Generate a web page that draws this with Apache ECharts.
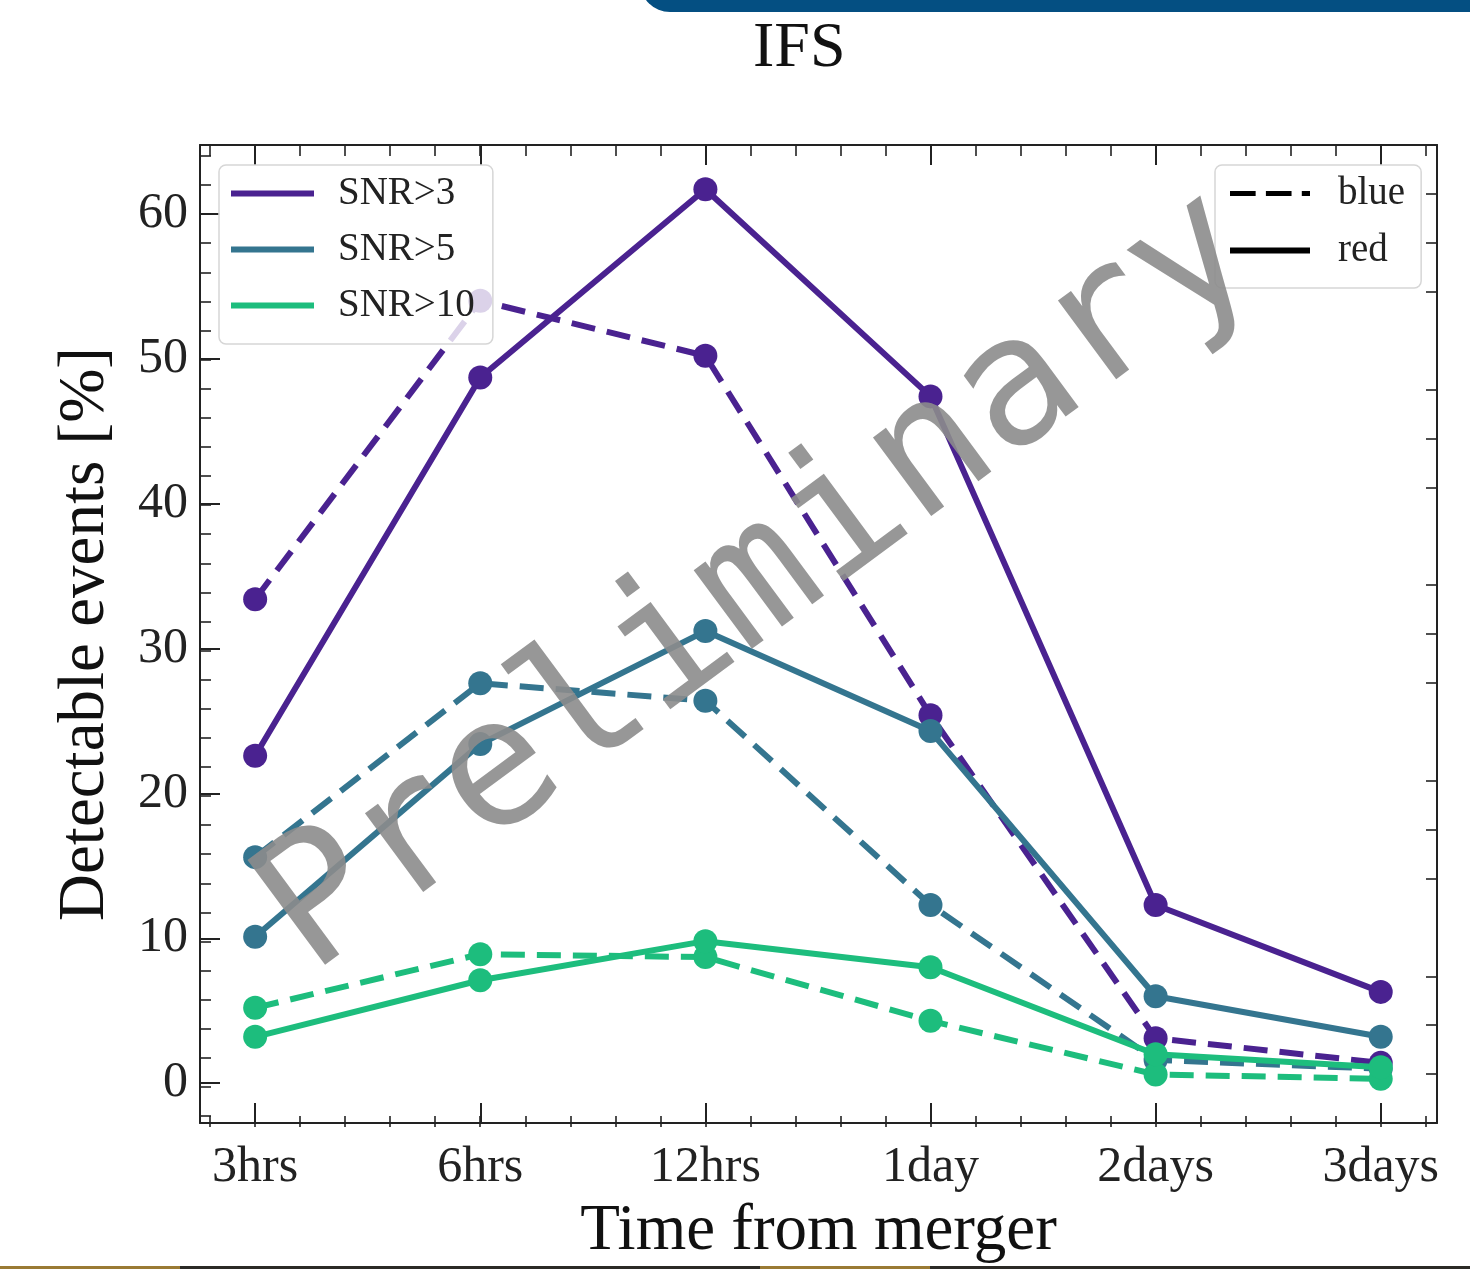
<!DOCTYPE html>
<html>
<head>
<meta charset="utf-8">
<script src="https://cdn.jsdelivr.net/npm/echarts@6/dist/echarts.min.js"></script>
<style>
html,body{margin:0;padding:0;background:#fff;}
#chart{width:1470px;height:1269px;}
</style>
</head>
<body>
<div id="chart"></div>
<script>
// x categories (time from merger)
var timeLabels = ['3hrs', '6hrs', '12hrs', '1day', '2days', '3days'];
// detectable events [%], solid = red, dashed = blue
var snr3Red = [22.6, 48.7, 61.7, 47.4, 12.3, 6.3];
var snr3Blue = [33.4, 54.0, 50.2, 25.4, 3.1, 1.4];
var snr5Red = [10.1, 23.4, 31.2, 24.3, 6.0, 3.2];
var snr5Blue = [15.6, 27.6, 26.4, 12.3, 1.6, 1.0];
var snr10Red = [3.2, 7.1, 9.8, 8.0, 2.0, 1.1];
var snr10Blue = [5.2, 8.9, 8.7, 4.3, 0.6, 0.3];

var serif = '"Liberation Serif", "DejaVu Serif", serif';
var axisColor = '#222';
var cPurple = '#4a2290';
var cTeal = '#34758f';
var cGreen = '#1dbd7d';

function pts(arr) {
	var out = [];
	for (var i = 0; i < arr.length; i++) out.push([i, arr[i]]);
	return out;
}

function lineSeries(name, arr, color, dashed) {
	return {
		type: 'line',
		name: name,
		data: pts(arr),
		xAxisIndex: 0,
		yAxisIndex: 0,
		symbol: 'circle',
		symbolSize: 24,
		itemStyle: {color: color},
		lineStyle: {color: color, width: 6, type: dashed ? [24, 12] : 'solid'},
		z: dashed ? 3 : 4,
		animation: false
	};
}

var chart = echarts.init(document.getElementById('chart'));

var majorTick = {show: true, inside: true, length: 20, lineStyle: {color: axisColor, width: 2}};
var frameLine = {show: true, onZero: false, lineStyle: {color: axisColor, width: 2}};
var hiddenLine = {show: false, onZero: false};
var minorAxisTick = {show: true, inside: true, length: 11, lineStyle: {color: axisColor, width: 1.6}};

var option = {
	backgroundColor: '#fff',
	animation: false,
	title: {
		text: 'IFS',
		left: 748,
		top: 12,
		textStyle: {fontFamily: serif, fontSize: 64, fontWeight: 'normal', color: '#111'}
	},
	grid: [
		{left: 200, right: 33, top: 145, bottom: 142},
		// helper grid, only for the minor ticks
		{left: 210.1, right: 44.3, top: 155.9, bottom: 152.9}
	],
	legend: [
		{
			orient: 'vertical',
			left: 219,
			top: 165,
			data: ['SNR>3', 'SNR>5', 'SNR>10'],
			icon: 'rect',
			itemWidth: 83,
			itemHeight: 6,
			itemGap: 17,
			padding: [9, 18, 19, 12],
			backgroundColor: 'rgba(255,255,255,0.8)',
			borderColor: '#d6d6d6',
			borderWidth: 1.5,
			borderRadius: 7,
			selectedMode: false,
			textStyle: {fontFamily: serif, fontSize: 39, color: '#222', lineHeight: 36, padding: [0, 0, 0, 19]}
		},
		{
			orient: 'vertical',
			left: 1215,
			top: 165,
			data: [
				{name: 'blue', icon: 'path://M0,0H25V5H0Z M35,0H60V5H35Z M70,0H78V5H70Z'},
				{name: 'red', icon: 'rect'}
			],
			itemWidth: 80,
			itemHeight: 6,
			itemGap: 18,
			padding: [9, 16, 18, 15],
			backgroundColor: 'rgba(255,255,255,0.8)',
			borderColor: '#d6d6d6',
			borderWidth: 1.5,
			borderRadius: 7,
			selectedMode: false,
			textStyle: {fontFamily: serif, fontSize: 39, color: '#222', lineHeight: 36, padding: [0, 0, 0, 23]}
		}
	],
	xAxis: [
		{
			type: 'value', gridIndex: 0, position: 'bottom',
			min: -0.245, max: 5.25, splitNumber: 5,
			axisLine: frameLine, axisTick: majorTick, splitLine: {show: false},
			axisLabel: {
				showMinLabel: false, showMaxLabel: false, margin: 20,
				fontFamily: serif, fontSize: 50, color: '#222',
				formatter: function (v) {
					var r = Math.round(v);
					return Math.abs(v - r) < 1e-6 && timeLabels[r] ? timeLabels[r] : '';
				}
			},
			name: 'Time from merger', nameLocation: 'middle', nameGap: 76,
			nameTextStyle: {fontFamily: serif, fontSize: 65, color: '#111'}
		},
		{
			type: 'value', gridIndex: 0, position: 'top',
			min: -0.245, max: 5.25, splitNumber: 5,
			axisLine: frameLine, axisTick: majorTick, splitLine: {show: false},
			axisLabel: {show: false}
		},
		{
			type: 'value', gridIndex: 1, position: 'bottom', offset: 10.9,
			min: -0.2, max: 5.2, interval: 0.2,
			axisLine: hiddenLine, axisTick: minorAxisTick, splitLine: {show: false},
			axisLabel: {show: false}
		},
		{
			type: 'value', gridIndex: 1, position: 'top', offset: 10.9,
			min: -0.2, max: 5.2, interval: 0.2,
			axisLine: hiddenLine, axisTick: minorAxisTick, splitLine: {show: false},
			axisLabel: {show: false}
		}
	],
	yAxis: [
		{
			type: 'value', gridIndex: 0, position: 'left',
			min: -2.75, max: 64.75, splitNumber: 7,
			axisLine: frameLine, axisTick: majorTick, splitLine: {show: false},
			axisLabel: {
				showMinLabel: false, showMaxLabel: false, margin: 12,
				fontFamily: serif, fontSize: 50, color: '#222',
				formatter: function (v) {
					return Math.abs(v % 10) < 1e-6 && v >= 0 ? String(v) : '';
				}
			},
			name: 'Detectable events [%]', nameLocation: 'middle', nameGap: 82,
			nameTextStyle: {fontFamily: serif, fontSize: 65, color: '#111'}
		},
		{
			type: 'value', gridIndex: 0, position: 'right', inverse: true,
			min: 0, max: 20, interval: 4,
			axisLine: frameLine, axisTick: {show: false, inside: true},
			minorTick: {show: true, splitNumber: 4, length: 11, lineStyle: {color: axisColor, width: 1.6}},
			splitLine: {show: false}, minorSplitLine: {show: false},
			axisLabel: {show: false}
		},
		{
			type: 'value', gridIndex: 1, position: 'left', offset: 10.1,
			min: -2, max: 64, interval: 2,
			axisLine: hiddenLine, axisTick: minorAxisTick, splitLine: {show: false},
			axisLabel: {show: false}
		}
	],
	series: [
		lineSeries('SNR>3 blue', snr3Blue, cPurple, true),
		lineSeries('SNR>5 blue', snr5Blue, cTeal, true),
		lineSeries('SNR>10 blue', snr10Blue, cGreen, true),
		lineSeries('SNR>3', snr3Red, cPurple, false),
		lineSeries('SNR>5', snr5Red, cTeal, false),
		lineSeries('SNR>10', snr10Red, cGreen, false),
		{type: 'line', name: 'blue', data: [], itemStyle: {color: '#000'}, lineStyle: {color: '#000', type: 'dashed'}},
		{type: 'line', name: 'red', data: [], itemStyle: {color: '#000'}, lineStyle: {color: '#000'}}
	],
	graphic: [
		{
			type: 'rect', left: 640, top: -30, z: 10,
			shape: {width: 860, height: 42, r: [0, 0, 0, 30]},
			style: {fill: '#044f82'}
		},
		{
			type: 'rect', left: 0, top: 1266, z: 10,
			shape: {width: 1470, height: 3},
			style: {fill: '#2b2a26'}
		},
		{
			type: 'rect', left: 0, top: 1266, z: 11,
			shape: {width: 180, height: 3},
			style: {fill: '#9a7a34'}
		},
		{
			type: 'rect', left: 760, top: 1266, z: 11,
			shape: {width: 170, height: 3},
			style: {fill: '#9a7a34'}
		},
		{
			type: 'text', z: 100,
			x: 760, y: 585,
			rotation: 36.5 * Math.PI / 180,
			style: {
				text: 'Preliminary',
				fontFamily: '"DejaVu Sans Mono", monospace',
				fontSize: 179,
				fill: 'rgba(140,140,140,0.9)',
				align: 'center',
				verticalAlign: 'middle'
			}
		}
	]
};

chart.setOption(option);
</script>
</body>
</html>
